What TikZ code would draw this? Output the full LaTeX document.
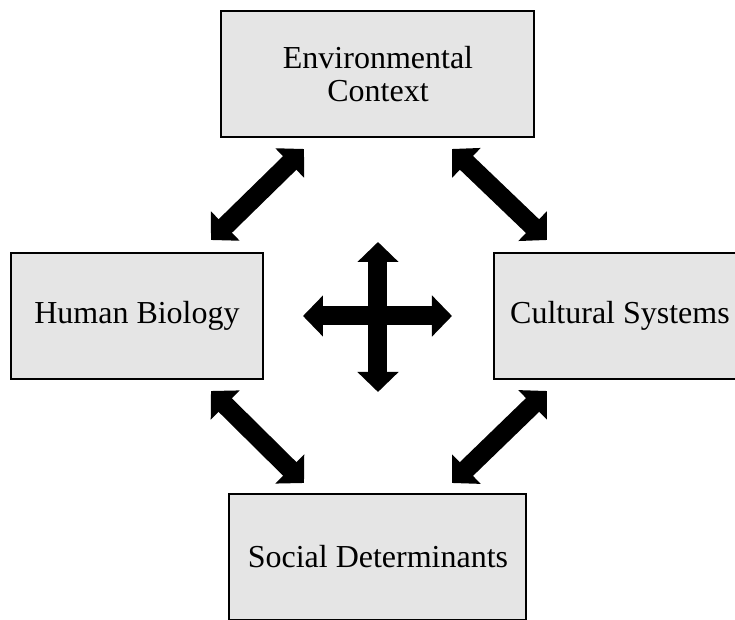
\documentclass[tikz,border=0pt]{standalone}
\usepackage{fontspec}
\setmainfont{Liberation Serif}
\usepackage{tikz}
\usetikzlibrary{positioning}
\usetikzlibrary{arrows.meta}

\tikzset{
  factor/.style={draw,line width=1pt,fill=black!10,minimum height=63pt,
    align=center,font=\fontsize{16}{16.5}\selectfont},
  link/.style={{Triangle[width=20pt,length=10pt]}-{Triangle[width=20pt,length=10pt]},
    line width=9.5pt}
}

\begin{document}
\begin{tikzpicture}
\useasboundingbox (-189pt,-152pt) rectangle (178.5pt,158pt);
\coordinate (hub) at (0,0);
\node[factor,minimum width=156.5pt] (env)  [above=89pt of hub]  {Environmental\\Context};
\node[factor,minimum width=126pt]   (bio)  [left=57pt of hub]   {Human Biology};
\node[factor,minimum width=126pt]   (cult) [right=57.5pt of hub] {Cultural Systems};
\node[factor,minimum width=148.5pt] (soc)  [below=88.5pt of hub] {Social Determinants};

% links between neighbouring factors
\draw[link] ([xshift=-37pt,yshift=-5.5pt]env.south) -- ([xshift=37pt,yshift=6pt]bio.north);
\draw[link] ([xshift=37pt,yshift=-5.5pt]env.south)  -- ([xshift=-36.5pt,yshift=6pt]cult.north);
\draw[link] ([xshift=37pt,yshift=-5.5pt]bio.south)  -- ([xshift=-37pt,yshift=5pt]soc.north);
\draw[link] ([xshift=-36.5pt,yshift=-5.5pt]cult.south) -- ([xshift=37pt,yshift=5pt]soc.north);

% cross in the middle
\draw[link] ([yshift=37pt]hub) -- ([yshift=-38pt]hub);
\draw[link] ([xshift=-37.5pt]hub) -- ([xshift=37pt]hub);
\end{tikzpicture}
\end{document}
